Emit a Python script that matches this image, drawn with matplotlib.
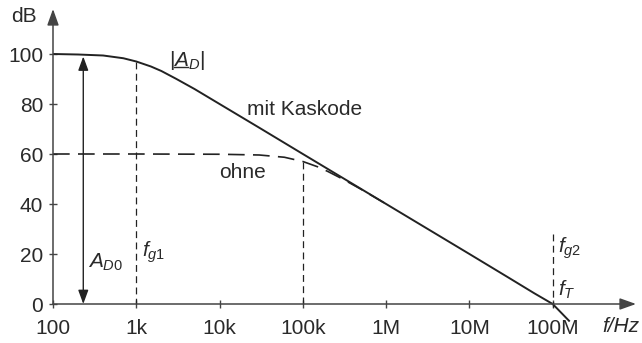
import matplotlib
matplotlib.use("Agg")
import matplotlib.pyplot as plt
from matplotlib.lines import Line2D

plt.rcParams['font.family'] = ['Liberation Sans', 'DejaVu Sans']
plt.rcParams['mathtext.fontset'] = 'custom'
plt.rcParams['mathtext.rm'] = 'Liberation Sans'
plt.rcParams['mathtext.it'] = 'Liberation Sans:italic'

# --- data ---
f_kaskode = [100, 200, 400, 700, 1e3, 1.5e3, 2e3, 3e3, 5e3, 1e4, 3e4, 1e5, 1e6, 1e7, 3e7, 6e7, 1e8, 1.6e8]
db_kaskode = [100, 99.8, 99.4, 98.3, 97, 95.0, 93.2, 90.1, 86, 80, 70.5, 60, 40, 20, 10.4, 4.3, 0, -7]

f_ohne = [100, 1e3, 1e4, 3e4, 6e4, 1e5, 1.5e5, 2e5, 3e5, 5e5, 1e6]
db_ohne = [60, 60, 59.9, 59.6, 58.7, 57, 54.9, 53, 50, 45.9, 40]

x_ticks = [100, 1e3, 1e4, 1e5, 1e6, 1e7, 1e8]
x_labels = ['100', '1k', '10k', '100k', '1M', '10M', '100M']
y_ticks = [0, 20, 40, 60, 80, 100]

fg1, fg1_db = 1e3, 97
fg_ohne, fg_ohne_db = 1e5, 57
fg2, fg2_db = 1e8, 28
AD0_f, AD0_db = 231, 99

ink = '#222222'
axc = '#444444'
tc = '#2a2a2a'
FS = 15

W, H = 642, 343
fig = plt.figure(figsize=(W/100, H/100), dpi=100)
ax = fig.add_axes([53/W, 14/H, 583/W, 320/H])
ax.set_xscale('log')
ax.set_xlim(100, 1e9)
ax.set_ylim(-10, 118)
ax.patch.set_alpha(0)

for s in ['top', 'right']:
    ax.spines[s].set_visible(False)
ax.spines['bottom'].set_position(('data', 0))
ax.spines['left'].set_position(('data', 100))
ax.spines['bottom'].set_visible(False)
ax.spines['left'].set_visible(False)

ax.set_xticks(x_ticks)
ax.set_xticklabels(x_labels)
ax.xaxis.set_minor_locator(matplotlib.ticker.NullLocator())
ax.set_yticks(y_ticks)
ax.tick_params(axis='both', direction='inout', length=6, width=1, color=axc,
               labelsize=FS, labelcolor=tc)
ax.tick_params(axis='x', pad=8)
ax.tick_params(axis='y', pad=4)

# axes with arrows
ap = dict(arrowstyle='-|>,head_length=0.7,head_width=0.25', color=axc, lw=1.1,
          shrinkA=0, shrinkB=0, mutation_scale=14)
ax.annotate('', xy=(1e9, 0), xytext=(100, 0), arrowprops=ap, annotation_clip=False)
ax.annotate('', xy=(100, 118), xytext=(100, 0), arrowprops=ap, annotation_clip=False)

# curves
ax.plot(f_kaskode, db_kaskode, color=ink, lw=1.4, solid_capstyle='butt')
ax.plot(f_ohne, db_ohne, color=ink, lw=1.2, dashes=(10, 5))

# vertical dashed markers
vd = dict(color=ink, lw=0.9, dashes=(5.5, 3.5))
ax.plot([fg1, fg1], [fg1_db, 0], **vd)
ax.plot([fg_ohne, fg_ohne], [fg_ohne_db, 0], **vd)
ax.plot([fg2, fg2], [fg2_db, -1], **vd)

# A_D0 double arrow
ax.annotate('', xy=(AD0_f, AD0_db), xytext=(AD0_f, 0),
            arrowprops=dict(arrowstyle='<|-|>,head_length=0.6,head_width=0.22', color=ink,
                            lw=1.0, shrinkA=0, shrinkB=0, mutation_scale=14))

fig.text(24/W, 1-17/H, 'dB', ha='center', va='center', fontsize=FS, color=tc)
fig.text(621/W, 1-327/H, 'f/Hz', ha='center', va='center', fontsize=FS,
         style='italic', color=tc)
fig.text(187/W, 1-60/H, r'$|A_D|$', ha='center', va='center',
         fontsize=FS, color=tc)
fig.add_artist(Line2D([174/W, 188/W], [1-67/H, 1-67/H], color=tc, lw=1.0))
fig.text(305/W, 1-110/H, 'mit Kaskode', ha='center', va='center', fontsize=FS, color=tc)
fig.text(243/W, 1-172/H, 'ohne', ha='center', va='center', fontsize=FS, color=tc)
fig.text(88/W, 1-262/H, r'$A_{D0}$', ha='left', va='center', fontsize=FS, color=tc)
fig.text(142/W, 1-252/H, r'$f_{g1}$', ha='left', va='center', fontsize=FS, color=tc)
fig.text(558/W, 1-248/H, r'$f_{g2}$', ha='left', va='center', fontsize=FS, color=tc)
fig.text(558/W, 1-290/H, r'$f_{T}$', ha='left', va='center', fontsize=FS, color=tc)

fig.savefig('out.png', dpi=100)
